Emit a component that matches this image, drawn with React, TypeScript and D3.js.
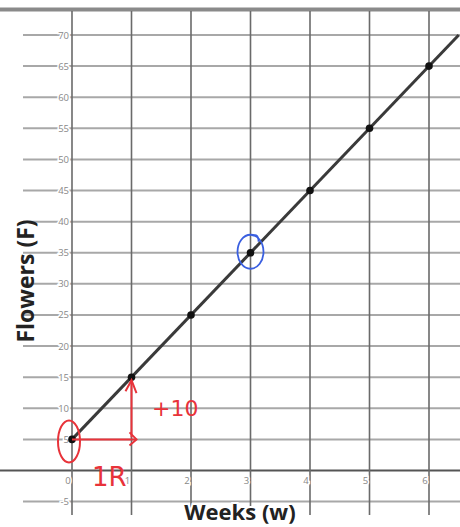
import React from "react";
import * as d3 from "d3";

const weeks = [0, 1, 2, 3, 4, 5, 6];
const flowers = [5, 15, 25, 35, 45, 55, 65];
const lineEnd = { w: 6.5, f: 70 };
const yTicks = [-5, 5, 10, 15, 20, 25, 30, 35, 40, 45, 50, 55, 60, 65, 70];
const xTicks = [0, 1, 2, 3, 4, 5, 6];

const W = 460;
const H = 527;

export default function App() {
  const x = d3.scaleLinear().domain([0, 6]).range([72, 429]);
  const y = d3.scaleLinear().domain([0, 70]).range([470.5, 35]);
  const line = d3
    .line<[number, number]>()
    .x((d) => x(d[0]))
    .y((d) => y(d[1]));
  const pts: [number, number][] = [[0, 5], [lineEnd.w, lineEnd.f]];
  const red = "#e8333a";
  const blue = "#3a5fe0";
  return (
    <svg
      width={W}
      height={H}
      style={{ position: "absolute", left: 0, top: 0, background: "#fff" }}
      fontFamily="'Open Sans', 'Liberation Sans', sans-serif"
    >
      <rect x={0} y={0} width={W} height={H} fill="#fff" />
      {/* top border */}
      <line x1={0} x2={W} y1={9.5} y2={9.5} stroke="#8a8a8a" strokeWidth={4} />
      {/* horizontal grid */}
      {yTicks.map((t) => (
        <line key={"h" + t} x1={23} x2={W} y1={y(t)} y2={y(t)} stroke="#a8a8a8" strokeWidth={2} />
      ))}
      <line x1={0} x2={W} y1={y(0)} y2={y(0)} stroke="#555" strokeWidth={2} />
      {/* vertical grid */}
      {xTicks.map((t) => (
        <line key={"v" + t} x1={x(t)} x2={x(t)} y1={11} y2={515} stroke="#6a6a6a" strokeWidth={1.6} />
      ))}
      {/* y tick labels */}
      {yTicks.map((t) => (
        <text
          key={"yl" + t}
          x={69}
          y={y(t) + 3.5}
          textAnchor="end"
          fontSize={9.5}
          fill="#888"
          stroke="#fff"
          strokeWidth={3}
          paintOrder="stroke"
        >
          {t}
        </text>
      ))}
      {/* x tick labels */}
      {xTicks.map((t) => (
        <text
          key={"xl" + t}
          x={x(t) - 4}
          y={484}
          textAnchor="middle"
          fontSize={9.5}
          fill="#888"
          stroke="#fff"
          strokeWidth={3}
          paintOrder="stroke"
        >
          {t}
        </text>
      ))}
      {/* data line */}
      <path d={line(pts) || ""} fill="none" stroke="#3a3a3a" strokeWidth={3} />
      {weeks.map((w, i) => (
        <circle key={"p" + w} cx={x(w)} cy={y(flowers[i])} r={3.8} fill="#111" />
      ))}
      {/* axis titles */}
      <text
        transform={`translate(34,${281}) rotate(-90)`}
        textAnchor="middle"
        fontSize={23}
        fontWeight="bold"
        fill="#222"
      >
        Flowers (F)
      </text>
      <text
        x={240}
        y={520}
        textAnchor="middle"
        fontSize={22}
        fontWeight="bold"
        fill="#222"
        stroke="#fff"
        strokeWidth={4}
        paintOrder="stroke"
      >
        Weeks (w)
      </text>
      {/* handwritten annotations */}
      <ellipse cx={x(3)} cy={y(35) - 1} rx={13} ry={17} fill="none" stroke={blue} strokeWidth={1.8} />
      <path d={`M${x(3) + 2},${y(35) - 17} q6,-3 6,6`} fill="none" stroke={blue} strokeWidth={1.6} />
      <ellipse cx={x(0) - 3} cy={y(5) + 2} rx={11} ry={21} fill="none" stroke={red} strokeWidth={2} />
      <line x1={x(0)} x2={x(1) + 5} y1={y(5)} y2={y(5)} stroke={red} strokeWidth={2} />
      <path d={`M${x(1) - 2},${y(5) - 7} L${x(1) + 5},${y(5)} L${x(1) - 2},${y(5) + 6}`} fill="none" stroke={red} strokeWidth={2} />
      <line x1={x(1)} x2={x(1)} y1={y(5) - 2} y2={y(15) + 3} stroke={red} strokeWidth={2} />
      <path d={`M${x(1) - 6},${y(15) + 14} L${x(1)},${y(15) + 3} L${x(1) + 5},${y(15) + 16}`} fill="none" stroke={red} strokeWidth={2} />
      <text x={152} y={416} fontSize={22} fill={red} fontFamily="'DejaVu Sans', sans-serif">
        +10
      </text>
      <text x={92} y={486} fontSize={26} fill={red} fontFamily="'DejaVu Sans', sans-serif">
        1R
      </text>
    </svg>
  );
}
